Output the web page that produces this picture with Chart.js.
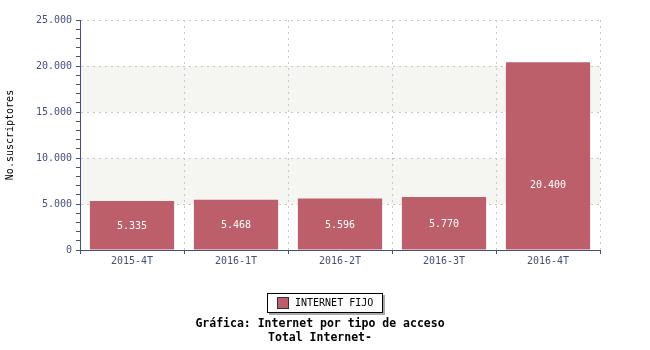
<!DOCTYPE html>
<html>
<head>
<meta charset="utf-8">
<script src="https://cdn.jsdelivr.net/npm/chart.js@4/dist/chart.umd.min.js"></script>
<style>
  html, body { margin: 0; padding: 0; background: #fff; }
  #wrap { width: 650px; height: 350px; position: relative; }
</style>
</head>
<body>
<div id="wrap"><canvas id="chart"></canvas></div>
<script>
// chart data
const categories = ['2015-4T', '2016-1T', '2016-2T', '2016-3T', '2016-4T'];
const internetFijo = [5335, 5468, 5596, 5770, 20400];
const seriesName = 'INTERNET FIJO';
const yTicks = [0, 5000, 10000, 15000, 20000, 25000];
const titleLines = ['Gráfica: Internet por tipo de acceso', 'Total Internet-'];
const yTitle = 'No.suscriptores';

const FONT = "'DejaVu Sans Mono', monospace";
const AXIS = '#46507a';
const BAR = '#bc5f6a';

// 5.335 style thousands
function fmt(v) {
    return String(v).replace(/\B(?=(\d{3})+(?!\d))/g, '.');
}

// alternate light bands behind the grid
const bandsPlugin = {
    id: 'bands',
    beforeDraw(chart) {
        const { ctx, chartArea, scales } = chart;
        const y = scales.y;
        ctx.save();
        ctx.fillStyle = '#f5f5f1';
        for (let i = 1; i < yTicks.length - 1; i += 2) {
            const top = y.getPixelForValue(yTicks[i + 1]);
            const bot = y.getPixelForValue(yTicks[i]);
            ctx.fillRect(chartArea.left, top, chartArea.right - chartArea.left, bot - top);
        }
        ctx.restore();
    }
};

// value labels inside bars, legend box and title lines
const extrasPlugin = {
    id: 'extras',
    afterDatasetsDraw(chart) {
        const { ctx } = chart;
        const meta = chart.getDatasetMeta(0);
        ctx.save();
        ctx.font = '10px ' + FONT;
        ctx.fillStyle = '#ffffff';
        ctx.textAlign = 'center';
        ctx.textBaseline = 'middle';
        meta.data.forEach((bar, i) => {
            const mid = (bar.y + bar.base) / 2;
            const y = Math.max(mid, bar.base - 65) + 1;
            ctx.fillText(fmt(internetFijo[i]), bar.x, y);
        });
        ctx.restore();
    },
    afterDraw(chart) {
        const { ctx } = chart;
        ctx.save();
        // legend box with shadow
        const lx = 267, ly = 293, lw = 116, lh = 20;
        ctx.fillStyle = '#aaaaaa';
        ctx.fillRect(lx + 2, ly + 2, lw, lh);
        ctx.fillStyle = '#ffffff';
        ctx.fillRect(lx, ly, lw, lh);
        ctx.strokeStyle = '#000000';
        ctx.lineWidth = 1;
        ctx.strokeRect(lx + 0.5, ly + 0.5, lw - 1, lh - 1);
        ctx.fillStyle = BAR;
        ctx.fillRect(277, 297, 12, 12);
        ctx.strokeStyle = '#333333';
        ctx.strokeRect(277.5, 297.5, 11, 11);
        ctx.fillStyle = '#000000';
        ctx.font = '10px ' + FONT;
        ctx.textAlign = 'left';
        ctx.textBaseline = 'middle';
        ctx.fillText(seriesName, 295, 303.5);
        // title
        ctx.font = 'bold 11.5px ' + FONT;
        ctx.textAlign = 'center';
        ctx.fillText(titleLines[0], 320, 324);
        ctx.fillText(titleLines[1], 320, 338);
        ctx.restore();
    }
};

new Chart(document.getElementById('chart'), {
    type: 'bar',
    data: {
        labels: categories,
        datasets: [{
            label: seriesName,
            data: internetFijo,
            backgroundColor: BAR,
            borderWidth: 0,
            categoryPercentage: 1,
            barPercentage: 0.81
        }]
    },
    options: {
        responsive: true,
        maintainAspectRatio: false,
        animation: false,
        layout: { padding: { left: 0, top: 20, right: 50, bottom: 0 } },
        plugins: {
            legend: { display: false },
            title: { display: false },
            tooltip: { enabled: false }
        },
        scales: {
            x: {
                afterFit(scale) { scale.height = 100; },
                border: { color: AXIS, width: 1, dash: [2, 4] },
                grid: {
                    offset: true,
                    color: '#c8c8c8',
                    tickColor: AXIS,
                    tickLength: 4,
                    tickBorderDash: [1, 0],
                    drawOnChartArea: true
                },
                ticks: {
                    color: AXIS,
                    font: { family: FONT, size: 10 },
                    padding: 1,
                    maxRotation: 0
                }
            },
            y: {
                min: 0,
                max: 25000,
                afterFit(scale) { scale.width = 80; },
                border: { color: AXIS, width: 1, dash: [2, 4] },
                grid: {
                    color: (c) => (c.tick && c.tick.value % 5000 === 0) ? '#c8c8c8' : 'rgba(0,0,0,0)',
                    tickColor: AXIS,
                    tickLength: 4,
                    tickBorderDash: [1, 0]
                },
                ticks: {
                    stepSize: 1000,
                    autoSkip: false,
                    color: AXIS,
                    font: { family: FONT, size: 10 },
                    padding: 4,
                    callback: (v) => (v % 5000 === 0 ? fmt(v) : '')
                },
                title: {
                    display: true,
                    text: yTitle,
                    color: '#000000',
                    font: { family: FONT, size: 10 },
                    padding: { top: 4, bottom: 0 }
                }
            }
        }
    },
    plugins: [bandsPlugin, extrasPlugin]
});
</script>
</body>
</html>
